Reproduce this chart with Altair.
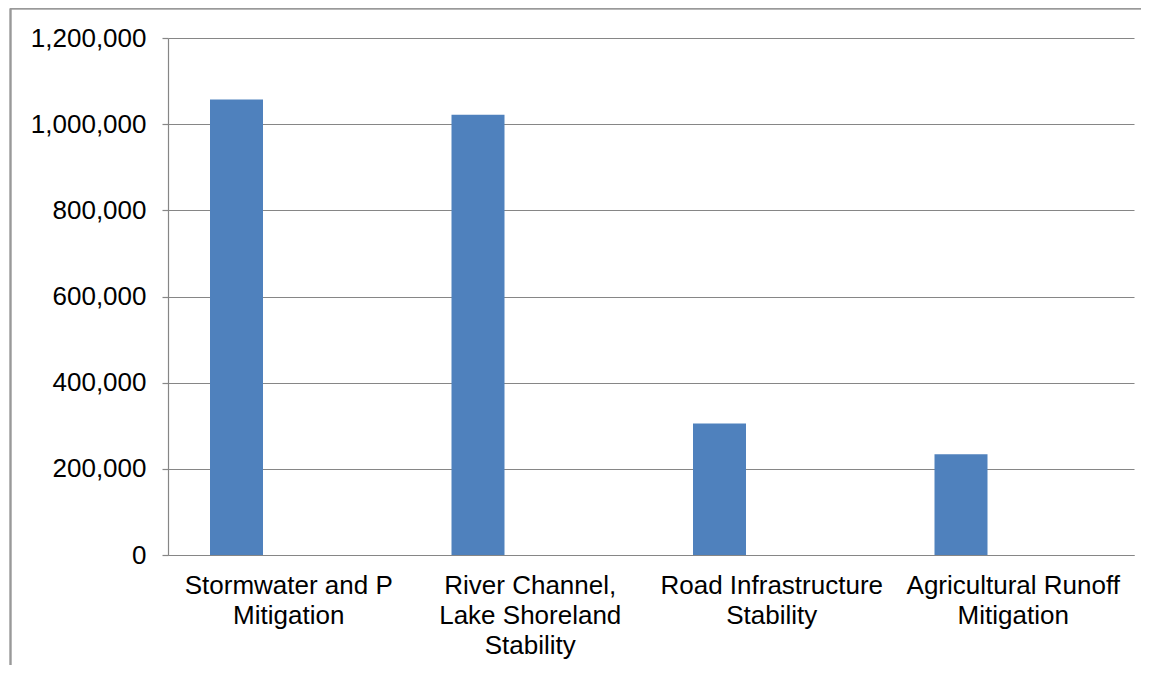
import altair as alt
import pandas as pd

categories = [
    "Stormwater and P|Mitigation",
    "River Channel,|Lake Shoreland|Stability",
    "Road Infrastructure|Stability",
    "Agricultural Runoff|Mitigation",
]
values = [1057000, 1022000, 305000, 234000]
y_ticks = [0, 200000, 400000, 600000, 800000, 1000000, 1200000]

df = pd.DataFrame({"category": categories, "value": values})

FONT = "Liberation Sans"
GRID = "#868686"

x_enc = alt.X(
    "category:N",
    sort=categories,
    scale=alt.Scale(paddingInner=0, paddingOuter=0),
    axis=alt.Axis(
        title=None,
        labelAngle=0,
        labelExpr="split(datum.value, '|')",
        labelFont=FONT,
        labelFontSize=26,
        labelColor="#000000",
        labelLineHeight=30,
        labelPadding=17,
        labelBaseline="top",
        labelLimit=0,
        ticks=False,
        domainColor=GRID,
        domainWidth=1.2,
        grid=False,
    ),
)

y_enc = alt.Y(
    "value:Q",
    scale=alt.Scale(domain=[0, 1200000], nice=False),
    axis=alt.Axis(
        title=None,
        values=y_ticks,
        format=",d",
        labelFont=FONT,
        labelFontSize=26,
        labelColor="#000000",
        labelPadding=16,
        tickSize=6,
        tickColor=GRID,
        tickWidth=1.2,
        domainColor=GRID,
        domainWidth=1.2,
        gridColor=GRID,
        gridWidth=1.2,
    ),
)

bars = alt.Chart(df).mark_bar(color="#4F81BD", width=53, xOffset=-52.25).encode(
    x=x_enc, y=y_enc
)

frame_v = alt.Chart(df).mark_rule(color="#999999", strokeWidth=1.5).encode(
    x=alt.value(-157.5), y=alt.value(-29.5), y2=alt.value(700)
)
frame_h = alt.Chart(df).mark_rule(color="#999999", strokeWidth=1.5).encode(
    x=alt.value(-157.5), x2=alt.value(1200), y=alt.value(-29.5)
)

chart = (
    alt.layer(bars, frame_v, frame_h)
    .properties(
        width=966,
        height=517,
        padding={"left": 160, "top": 30, "right": 7, "bottom": 110},
        autosize=alt.AutoSizeParams(type="none"),
    )
    .configure_view(stroke=None)
)

chart.save("out.html", embed_options={"renderer": "svg", "actions": False})
